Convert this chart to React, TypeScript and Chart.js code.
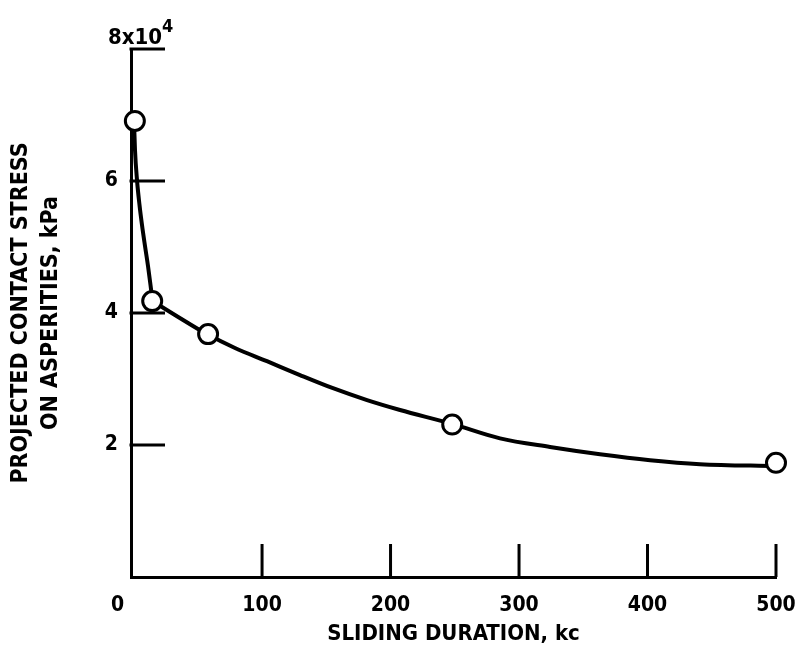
import React, { useEffect, useRef } from 'react';
import { Chart, registerables } from 'chart.js';

Chart.register(...registerables);

// measured circles
const pointX = [1, 14.5, 58, 248, 500];
const pointY = [69100, 41800, 36800, 23100, 17300];

// hand-drawn fitted curve: steep initial branch and long tail
const steepX = [0.33, 1.11, 2.67, 4.62, 6.56, 8.9, 11.23, 13.18, 14.73];
const steepY = [69200, 64700, 60150, 56360, 53330, 50150, 47120, 44240, 41810];
const tailX = [14.73, 32.2, 57.1, 78.9, 103.8, 129.5, 155.2, 181.7, 207.4, 247.8, 285.2, 324.1, 363, 402, 440.8, 500];
const tailY = [41810, 39700, 36800, 34700, 32700, 30600, 28600, 26800, 25300, 23200, 21000, 19700, 18600, 17700, 17100, 16800];

const xTickValues = [0, 100, 200, 300, 400, 500];
const xTickLabels = ['', '100', '200', '300', '400', '500'];
const yTickValues = [0, 20000, 40000, 60000, 80000];
const yTickLabels = ['', '2', '4', '6', ''];
const originLabel = '0';
const topLabelBase = '8x10';
const topLabelExp = '4';
const xTitle = 'SLIDING DURATION, kc';
const yTitle = ['PROJECTED CONTACT STRESS', 'ON ASPERITIES, kPa'];

const FAMILY = '"DejaVu Sans Condensed", "Liberation Sans Narrow", sans-serif';
const TICK_FONT = { family: FAMILY, size: 21, weight: 'bold' as const, lineHeight: 1.1 };
const XTITLE_FONT = { family: FAMILY, size: 22, weight: 'bold' as const, lineHeight: 1.1 };
const YTITLE_FONT = { family: FAMILY, size: 23, weight: 'bold' as const, lineHeight: 1.3 };

const innerTicks = {
  id: 'innerTicks',
  beforeDatasetsDraw(chart: any) {
    const { ctx, scales, chartArea } = chart;
    const x = scales.x;
    const y = scales.y;
    ctx.save();
    ctx.strokeStyle = '#000';
    ctx.lineWidth = 3;
    x.ticks.forEach((t: any) => {
      if (t.value <= 0) return;
      const px = x.getPixelForValue(t.value);
      ctx.beginPath();
      ctx.moveTo(px, chartArea.bottom);
      ctx.lineTo(px, chartArea.bottom - 33);
      ctx.stroke();
    });
    y.ticks.forEach((t: any) => {
      if (t.value <= 0) return;
      const py = y.getPixelForValue(t.value);
      ctx.beginPath();
      ctx.moveTo(chartArea.left - 1.5, py);
      ctx.lineTo(chartArea.left + 34, py);
      ctx.stroke();
    });
    ctx.restore();
  },
  afterDraw(chart: any) {
    const { ctx, scales } = chart;
    const x = scales.x;
    const y = scales.y;
    ctx.save();
    ctx.fillStyle = '#000';
    ctx.font = `bold ${TICK_FONT.size}px ${FAMILY}`;
    ctx.textAlign = 'center';
    ctx.textBaseline = 'middle';
    ctx.fillText(originLabel, x.getPixelForValue(0) - 16, x.top + 29);
    const topY = y.getPixelForValue(80000);
    ctx.textAlign = 'left';
    ctx.textBaseline = 'alphabetic';
    ctx.font = `bold 22px ${FAMILY}`;
    ctx.fillText(topLabelBase, y.right - 23, topY - 5);
    const w = ctx.measureText(topLabelBase).width;
    ctx.font = `bold 18px ${FAMILY}`;
    ctx.fillText(topLabelExp, y.right - 23 + w, topY - 17);
    ctx.restore();
  },
};

const lineStyle = {
  type: 'line',
  borderColor: '#000',
  borderWidth: 4,
  pointRadius: 0,
  cubicInterpolationMode: 'monotone',
  borderJoinStyle: 'round',
  borderCapStyle: 'round',
  fill: false,
  order: 1,
  clip: false,
};

export default function App() {
  const ref = useRef<HTMLCanvasElement | null>(null);
  useEffect(() => {
    if (!ref.current) return;
    const chart = new Chart(ref.current, {
      type: 'scatter',
      data: {
        datasets: [
          {
            type: 'scatter',
            data: pointX.map((x, i) => ({ x, y: pointY[i] })),
            pointRadius: 9.5,
            pointBorderWidth: 3,
            pointBackgroundColor: '#fff',
            pointBorderColor: '#000',
            order: 0,
            clip: false,
          } as any,
          { ...lineStyle, data: steepX.map((x, i) => ({ x, y: steepY[i] })) } as any,
          { ...lineStyle, data: tailX.map((x, i) => ({ x, y: tailY[i] })) } as any,
        ],
      },
      options: {
        animation: false,
        responsive: false,
        events: [],
        layout: { padding: { top: 49, right: 21, left: 0, bottom: 0 } },
        plugins: { legend: { display: false }, tooltip: { enabled: false } },
        scales: {
          x: {
            type: 'linear',
            min: -2,
            max: 500,
            afterBuildTicks: (s: any) => {
              s.ticks = xTickValues.map((v) => ({ value: v }));
            },
            afterFit: (s: any) => {
              s.height = 78;
              s.paddingLeft = 0;
              s.paddingRight = 0;
            },
            grid: { display: false, drawTicks: false },
            border: { display: true, color: '#000', width: 3 },
            ticks: {
              autoSkip: false,
              maxRotation: 0,
              color: '#000',
              padding: 17,
              font: TICK_FONT,
              callback: (v: any) => {
                const i = xTickValues.indexOf(Number(v));
                return i >= 0 ? xTickLabels[i] : '';
              },
            },
            title: {
              display: true,
              text: xTitle,
              color: '#000',
              font: XTITLE_FONT,
              padding: { top: 0, bottom: 9 },
            },
          },
          y: {
            type: 'linear',
            min: 0,
            max: 80000,
            afterBuildTicks: (s: any) => {
              s.ticks = yTickValues.map((v) => ({ value: v }));
            },
            afterFit: (s: any) => {
              s.width = 131;
            },
            grid: { display: false, drawTicks: false },
            border: { display: true, color: '#000', width: 3 },
            ticks: {
              autoSkip: false,
              color: '#000',
              padding: 13,
              font: TICK_FONT,
              callback: (v: any) => {
                const i = yTickValues.indexOf(Number(v));
                return i >= 0 ? yTickLabels[i] : '';
              },
            },
            title: {
              display: true,
              text: yTitle,
              color: '#000',
              font: YTITLE_FONT,
              padding: { top: 6, bottom: 0 },
            },
          },
        },
      } as any,
      plugins: [innerTicks],
    });
    return () => chart.destroy();
  }, []);
  return (
    <div style={{ position: 'absolute', left: 0, top: 0, width: 797, height: 655, background: '#fff' }}>
      <canvas ref={ref} width={797} height={655} style={{ display: 'block', width: 797, height: 655 }} />
    </div>
  );
}
